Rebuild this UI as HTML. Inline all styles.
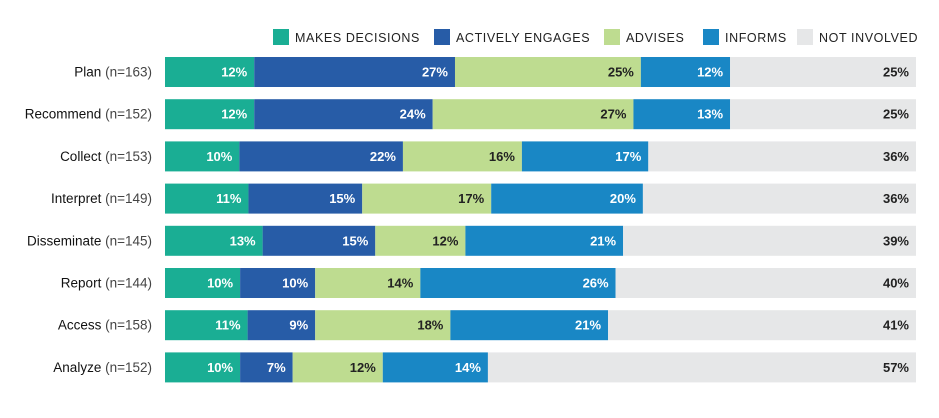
<!DOCTYPE html>
<html><head><meta charset="utf-8"><style>
html,body{margin:0;padding:0;background:#fff;width:939px;height:418px;overflow:hidden}
svg{display:block;font-family:"Liberation Sans",Arial,sans-serif}
</style></head><body>
<svg id="chart" width="939" height="418"></svg>
<script>
const categories=["Plan","Recommend","Collect","Interpret","Disseminate","Report","Access","Analyze"];
const counts=[163,152,153,149,145,144,158,152];
const seriesNames=["MAKES DECISIONS","ACTIVELY ENGAGES","ADVISES","INFORMS","NOT INVOLVED"];
const makesDecisions=[12,12,10,11,13,10,11,10];
const activelyEngages=[27,24,22,15,15,10,9,7];
const advises=[25,27,16,17,12,14,18,12];
const informs=[12,13,17,20,21,26,21,14];
const notInvolved=[25,25,36,36,39,40,41,57];
const series=[makesDecisions,activelyEngages,advises,informs,notInvolved];
const colors=["#1aae94","#275ca7","#bedc90","#1987c5","#e6e7e8"];
const textColors=["#fff","#fff","#222","#fff","#222"];
const legendX=[273,434,604,703,797];
const NS="http://www.w3.org/2000/svg";
const svg=document.getElementById("chart");
function mk(t,a,p){const e=document.createElementNS(NS,t);for(const k in a)e.setAttribute(k,a[k]);(p||svg).appendChild(e);return e;}
const x0=165,x1=916,top0=57,step=42.2,bh=30;
function xs(v,total){return v/total*(x1-x0);}
function yRow(i){return top0+i*step;}
// legend
seriesNames.forEach((n,i)=>{
  const g=mk("g",{});
  
  
  mk("rect",{x:legendX[i],y:29,width:16,height:16,fill:colors[i]},g);
  const t=mk("text",{x:legendX[i]+22,y:42,"font-size":12.5,fill:"#222","letter-spacing":"0.6"},g);
  t.textContent=n;
});
categories.forEach((c,i)=>{
  const y=yRow(i);
  const lab=mk("text",{x:152,y:y+bh/2+4.5,"text-anchor":"end","font-size":13.5,fill:"#111"});
  
  
  const s1=mk("tspan",{},lab);s1.textContent=c+" ";
  const s2=mk("tspan",{fill:"#444"},lab);s2.textContent="(n="+counts[i]+")";
  let total=0;series.forEach(s=>total+=s[i]);
  let x=x0;
  series.forEach((s,k)=>{
    const w=xs(s[i],total);
    const r=mk("rect",{x:x,y:y,width:w,height:bh,fill:colors[k]});
    
    
    const t=mk("text",{x:x+w-7,y:y+bh/2+4.5,"text-anchor":"end","font-size":13,"font-weight":"bold",fill:textColors[k]});
    
    
    t.textContent=s[i]+"%";
    x+=w;
  });
});
</script>
</body></html>
